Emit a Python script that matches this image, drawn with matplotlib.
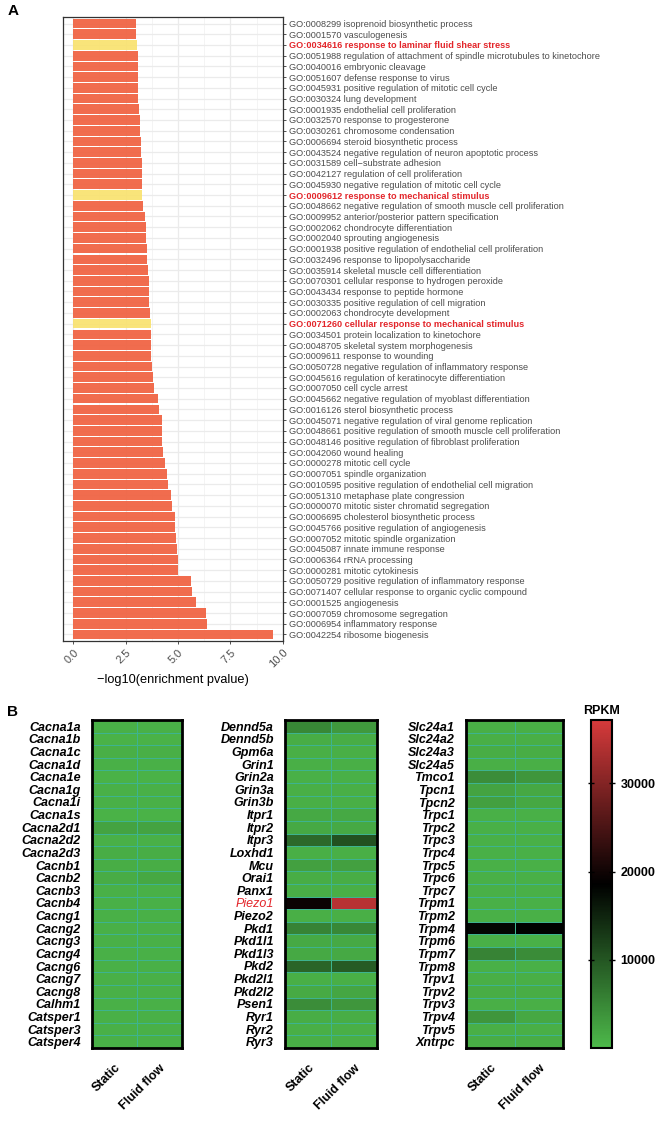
import numpy as np
import matplotlib
matplotlib.use("Agg")
import matplotlib.pyplot as plt
from matplotlib.colors import LinearSegmentedColormap

# ---- panel A data (top to bottom) ----
go_terms = [
    "GO:0008299 isoprenoid biosynthetic process",
    "GO:0001570 vasculogenesis",
    "GO:0034616 response to laminar fluid shear stress",
    "GO:0051988 regulation of attachment of spindle microtubules to kinetochore",
    "GO:0040016 embryonic cleavage",
    "GO:0051607 defense response to virus",
    "GO:0045931 positive regulation of mitotic cell cycle",
    "GO:0030324 lung development",
    "GO:0001935 endothelial cell proliferation",
    "GO:0032570 response to progesterone",
    "GO:0030261 chromosome condensation",
    "GO:0006694 steroid biosynthetic process",
    "GO:0043524 negative regulation of neuron apoptotic process",
    "GO:0031589 cell\u2212substrate adhesion",
    "GO:0042127 regulation of cell proliferation",
    "GO:0045930 negative regulation of mitotic cell cycle",
    "GO:0009612 response to mechanical stimulus",
    "GO:0048662 negative regulation of smooth muscle cell proliferation",
    "GO:0009952 anterior/posterior pattern specification",
    "GO:0002062 chondrocyte differentiation",
    "GO:0002040 sprouting angiogenesis",
    "GO:0001938 positive regulation of endothelial cell proliferation",
    "GO:0032496 response to lipopolysaccharide",
    "GO:0035914 skeletal muscle cell differentiation",
    "GO:0070301 cellular response to hydrogen peroxide",
    "GO:0043434 response to peptide hormone",
    "GO:0030335 positive regulation of cell migration",
    "GO:0002063 chondrocyte development",
    "GO:0071260 cellular response to mechanical stimulus",
    "GO:0034501 protein localization to kinetochore",
    "GO:0048705 skeletal system morphogenesis",
    "GO:0009611 response to wounding",
    "GO:0050728 negative regulation of inflammatory response",
    "GO:0045616 regulation of keratinocyte differentiation",
    "GO:0007050 cell cycle arrest",
    "GO:0045662 negative regulation of myoblast differentiation",
    "GO:0016126 sterol biosynthetic process",
    "GO:0045071 negative regulation of viral genome replication",
    "GO:0048661 positive regulation of smooth muscle cell proliferation",
    "GO:0048146 positive regulation of fibroblast proliferation",
    "GO:0042060 wound healing",
    "GO:0000278 mitotic cell cycle",
    "GO:0007051 spindle organization",
    "GO:0010595 positive regulation of endothelial cell migration",
    "GO:0051310 metaphase plate congression",
    "GO:0000070 mitotic sister chromatid segregation",
    "GO:0006695 cholesterol biosynthetic process",
    "GO:0045766 positive regulation of angiogenesis",
    "GO:0007052 mitotic spindle organization",
    "GO:0045087 innate immune response",
    "GO:0006364 rRNA processing",
    "GO:0000281 mitotic cytokinesis",
    "GO:0050729 positive regulation of inflammatory response",
    "GO:0071407 cellular response to organic cyclic compound",
    "GO:0001525 angiogenesis",
    "GO:0007059 chromosome segregation",
    "GO:0006954 inflammatory response",
    "GO:0042254 ribosome biogenesis",
]
enrichment = [
    2.99, 3.01, 3.05, 3.07, 3.07, 3.09, 3.11, 3.11, 3.13, 3.17,
    3.19, 3.21, 3.24, 3.27, 3.27, 3.30, 3.30, 3.35, 3.41, 3.46,
    3.49, 3.52, 3.54, 3.56, 3.59, 3.60, 3.62, 3.65, 3.70, 3.71,
    3.71, 3.73, 3.76, 3.81, 3.85, 4.06, 4.07, 4.21, 4.21, 4.25,
    4.30, 4.40, 4.46, 4.51, 4.68, 4.73, 4.83, 4.84, 4.92, 4.94,
    4.98, 5.00, 5.60, 5.68, 5.86, 6.34, 6.38, 9.55,
]
highlight = [
    "GO:0034616 response to laminar fluid shear stress",
    "GO:0009612 response to mechanical stimulus",
    "GO:0071260 cellular response to mechanical stimulus",
]

# ---- panel B data ----
conditions = ["Static", "Fluid flow"]
genes1 = ["Cacna1a", "Cacna1b", "Cacna1c", "Cacna1d", "Cacna1e", "Cacna1g", "Cacna1i",
          "Cacna1s", "Cacna2d1", "Cacna2d2", "Cacna2d3", "Cacnb1", "Cacnb2", "Cacnb3",
          "Cacnb4", "Cacng1", "Cacng2", "Cacng3", "Cacng4", "Cacng6", "Cacng7", "Cacng8",
          "Calhm1", "Catsper1", "Catsper3", "Catsper4"]
static1 = [900, 800, 1100, 1000, 800, 1000, 900, 800, 2300, 1000, 1300, 1200, 1400, 1000,
           1000, 900, 900, 900, 1000, 900, 900, 900, 1000, 900, 900, 900]
flow1 = [900, 800, 1100, 1000, 800, 1000, 900, 800, 2200, 1000, 1300, 1200, 1800, 1000,
         1000, 900, 900, 900, 1000, 900, 900, 900, 1000, 900, 900, 900]

genes2 = ["Dennd5a", "Dennd5b", "Gpm6a", "Grin1", "Grin2a", "Grin3a", "Grin3b", "Itpr1",
          "Itpr2", "Itpr3", "Loxhd1", "Mcu", "Orai1", "Panx1", "Piezo1", "Piezo2", "Pkd1",
          "Pkd1l1", "Pkd1l3", "Pkd2", "Pkd2l1", "Pkd2l2", "Psen1", "Ryr1", "Ryr2", "Ryr3"]
static2 = [5000, 1300, 1100, 1100, 1000, 1100, 1100, 1700, 1700, 8000, 1100, 2600, 1300,
           1100, 19500, 1100, 5500, 1700, 1700, 8500, 1100, 1500, 4500, 1300, 1100, 1100]
flow2 = [3200, 1300, 1100, 1100, 1000, 1100, 1100, 1700, 1700, 10500, 1100, 2600, 1300,
         1100, 34500, 1100, 5000, 1700, 1700, 9500, 1100, 1900, 3600, 1300, 1100, 1100]

genes3 = ["Slc24a1", "Slc24a2", "Slc24a3", "Slc24a5", "Tmco1", "Tpcn1", "Tpcn2", "Trpc1",
          "Trpc2", "Trpc3", "Trpc4", "Trpc5", "Trpc6", "Trpc7", "Trpm1", "Trpm2", "Trpm4",
          "Trpm6", "Trpm7", "Trpm8", "Trpv1", "Trpv2", "Trpv3", "Trpv4", "Trpv5", "Xntrpc"]
static3 = [1100, 1100, 1300, 1100, 4500, 2200, 2600, 1000, 1000, 1000, 1000, 1000, 1000,
           1000, 1000, 1000, 18000, 1000, 5500, 1000, 1100, 1300, 1100, 3600, 1100, 1300]
flow3 = [1100, 1100, 1300, 1100, 3600, 1800, 1800, 1000, 1000, 1000, 1000, 1000, 1000,
         1000, 1000, 1000, 18500, 1000, 4600, 1000, 1100, 1300, 1100, 1800, 1100, 1300]

W, H = 665, 1122
fig = plt.figure(figsize=(W / 100, H / 100), dpi=100)


def px_axes(l, t, r, b):
    return fig.add_axes([l / W, 1 - b / H, (r - l) / W, (b - t) / H])


arial = ["Liberation Sans", "DejaVu Sans"]

# ---------------- panel A ----------------
ax = px_axes(63.3, 17.1, 283.4, 640.9)
n = len(go_terms)
ypos = np.arange(n)
colors = ["#F9E26F" if t in highlight else "#F0603F" for t in go_terms]
ax.barh(ypos, enrichment, height=0.9, color=colors, alpha=0.92, zorder=2)
ax.set_xlim(-0.4775, 10.0275)
ax.set_ylim(n - 0.4, -0.6)
ax.set_xticks([0, 2.5, 5, 7.5, 10])
ax.set_xticks([1.25, 3.75, 6.25, 8.75], minor=True)
ax.set_xticklabels(["0.0", "2.5", "5.0", "7.5", "10.0"], rotation=45, ha="right",
                   rotation_mode="anchor", family=arial, fontsize=8, color="#4D4D4D")
ax.set_yticks(ypos)
ax.yaxis.tick_right()
ax.set_yticklabels(go_terms, family=arial, fontsize=6.6, color="#4D4D4D")
for lab in ax.get_yticklabels():
    if lab.get_text() in highlight:
        lab.set_color("#E3262B")
        lab.set_fontweight("bold")
ax.tick_params(axis="y", length=2.5, width=0.6, color="#333333", pad=1.5)
ax.tick_params(axis="x", which="major", length=2.5, width=0.6, color="#333333", pad=2)
ax.tick_params(axis="x", which="minor", length=0)
ax.grid(True, which="major", color="#EBEBEB", lw=0.9, zorder=0)
ax.grid(True, which="minor", axis="x", color="#F2F2F2", lw=0.6, zorder=0)
ax.set_axisbelow(True)
for s in ax.spines.values():
    s.set_color("#333333")
    s.set_linewidth(0.9)
ax.set_xlabel("\u2212log10(enrichment pvalue)", family=arial, fontsize=9.2,
              color="black", labelpad=3)
fig.text(13 / W, 1 - 11 / H, "A", family=arial, fontweight="bold", fontsize=11,
         ha="center", va="center")

# ---------------- panel B ----------------
cmap = LinearSegmentedColormap.from_list("gbr", ["#4DB94A", "#000000", "#D53A3B"])
vmin, vmax = 0, 37200

panels = [
    (92, 182, genes1, static1, flow1),
    (285, 377, genes2, static2, flow2),
    (466, 563, genes3, static3, flow3),
]
mesh = None
for l, r, genes, st, fl in panels:
    hax = px_axes(l, 720, r, 1048)
    data = np.column_stack([st, fl])
    mesh = hax.pcolormesh(data, cmap=cmap, vmin=vmin, vmax=vmax,
                          edgecolor="#3DB38F", linewidth=0.5)
    hax.set_xlim(0, 2)
    hax.set_ylim(len(genes), 0)
    hax.set_yticks(np.arange(len(genes)) + 0.5)
    hax.set_yticklabels(genes, family=arial, fontsize=9, fontweight="bold", style="italic")
    for lab in hax.get_yticklabels():
        if lab.get_text() == "Piezo1":
            lab.set_color("#E3262B")
            lab.set_fontweight("normal")
    hax.set_xticks([0.5, 1.5])
    hax.set_xticklabels(conditions, rotation=45, ha="right", rotation_mode="anchor",
                        family=arial, fontsize=9, fontweight="bold")
    hax.tick_params(length=0, pad=8)
    hax.tick_params(axis="x", pad=10)
    for s in hax.spines.values():
        s.set_linewidth(2)
        s.set_color("black")

cax = px_axes(591, 720, 612, 1048)
cb = fig.colorbar(mesh, cax=cax, ticks=[10000, 20000, 30000])
cb.outline.set_linewidth(1.5)
cax.tick_params(axis="y", left=True, right=True, direction="inout", length=5, width=1)
for lab in cax.get_yticklabels():
    lab.set_family(arial)
    lab.set_fontweight("bold")
    lab.set_fontsize(9)
cax.set_title("RPKM", family=arial, fontweight="bold", fontsize=9, pad=4)
fig.text(12 / W, 1 - 712 / H, "B", family=arial, fontweight="bold", fontsize=11,
         ha="center", va="center")

fig.savefig("out.png", dpi=100)
